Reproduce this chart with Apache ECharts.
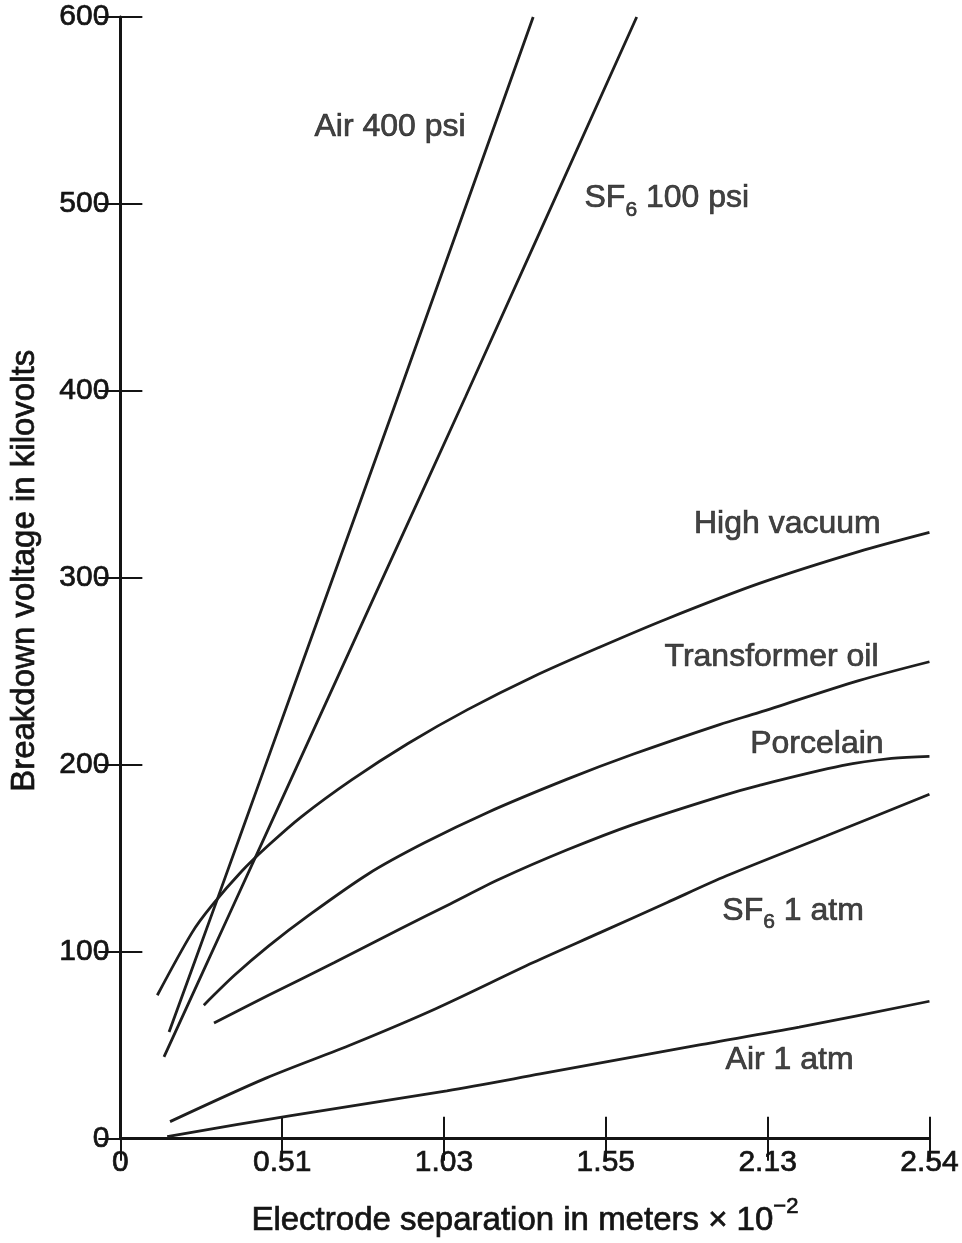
<!DOCTYPE html>
<html>
<head>
<meta charset="utf-8">
<script src="https://cdn.jsdelivr.net/npm/echarts@6/dist/echarts.min.js"></script>
<style>
html,body{margin:0;padding:0;background:#fff;}
#chart{width:962px;height:1243px;}
</style>
</head>
<body>
<div id="chart"></div>
<script>
// ---- data (x: electrode separation, m x 10^-2 ; y: breakdown voltage, kV) ----
const xTickStep = 0.508;
const xTickLabels = ['0', '0.51', '1.03', '1.55', '2.13', '2.54'];
const yTickStep = 100;

const air400psi = [[0.153,57.0],[0.300,126.0],[0.450,197.0],[0.625,280.0],[0.859,391.0],[1.296,600]];
const sf6100psi = [[0.137,43.7],[0.350,123.0],[0.550,197.5],[0.800,291.0],[1.084,397.0],[1.621,600]];
const highVacuum = [[0.116,76.7],[0.225,110.2],[0.287,124.6],[0.381,143.0],[0.465,156.9],[0.569,172.3],[0.725,191.8],[0.903,211.4],[1.090,229.5],[1.296,247.1],[1.506,263.0],[1.715,278.0],[2.006,297.0],[2.318,314.0],[2.540,324.3]];
const transformerOil = [[0.262,71.4],[0.359,87.5],[0.465,103.0],[0.590,119.3],[0.778,141.6],[0.953,158.1],[1.153,174.5],[1.403,192.3],[1.609,205.6],[1.881,221.5],[2.006,228.0],[2.318,245.0],[2.540,255.1]];
const porcelain = [[0.294,61.8],[0.465,76.7],[0.672,94.2],[0.881,112.4],[1.037,125.7],[1.193,139.0],[1.403,154.5],[1.609,168.0],[1.881,183.0],[2.006,189.0],[2.265,199.5],[2.421,203.4],[2.540,204.5]];
const sf61atm = [[0.156,9.1],[0.459,32.5],[0.728,50.5],[0.990,69.5],[1.296,94.2],[1.506,110.2],[1.715,126.2],[1.903,140.6],[2.215,161.9],[2.540,184.2]];
const air1atm = [[0.147,1.1],[0.531,12.2],[1.025,25.6],[1.318,34.6],[1.818,50.1],[2.131,59.6],[2.540,73.5]];

// curve labels (right edge x, centre y)
const curveLabelText = ['{t|Air 400 psi}', '{t|SF}{s|6}{t| 100 psi}', '{t|High vacuum}', '{t|Transformer oil}', '{t|Porcelain}', '{t|SF}{s|6}{t| 1 atm}', '{t|Air 1 atm}'];
const curveLabelX = [1.084, 1.974, 2.387, 2.380, 2.396, 2.334, 2.302];
const curveLabelY = [541.0, 503.0, 328.5, 257.7, 210.9, 121.9, 42.1];

const xAxisTitle = '{t|Electrode separation in meters \u00d7 10}{p|\u22122}';
const yAxisTitle = 'Breakdown voltage in kilovolts';

// ---- chart ----
const FONT = 'Liberation Sans';
const INK = '#141414';
const BOLDEN = {textBorderColor: INK, textBorderWidth: 0.7};
const chart = echarts.init(document.getElementById('chart'), null, {renderer: 'canvas'});

function lineSeries(name, data) {
  return {
    name: name, type: 'line', data: data, smooth: 0.3, symbol: 'none',
    lineStyle: {color: '#1e1e1e', width: 2.8}, silent: true, z: 3
  };
}

const labelData = curveLabelText.map((t, i) => ({value: [curveLabelX[i], curveLabelY[i]], text: t}));

const tickStyle = {inside: true, length: 22, lineStyle: {color: INK, width: 2}};

const option = {
  backgroundColor: '#ffffff',
  animation: false,
  grid: {left: 118, right: 32, top: 17, bottom: 99},
  xAxis: [{
    type: 'value', min: 0, max: 2.54, interval: xTickStep, position: 'bottom',
    axisLine: {lineStyle: {color: INK, width: 3}},
    axisTick: tickStyle,
    splitLine: {show: false},
    axisLabel: Object.assign({
      fontFamily: FONT, fontSize: 30, color: INK, margin: 9,
      formatter: v => xTickLabels[Math.round(v / xTickStep)] || ''
    }, BOLDEN),
    name: xAxisTitle, nameLocation: 'middle', nameGap: 57,
    nameTextStyle: {
      rich: {
        t: Object.assign({fontFamily: FONT, fontSize: 33, color: INK, verticalAlign: 'bottom', lineHeight: 42}, BOLDEN),
        p: Object.assign({fontFamily: FONT, fontSize: 22, color: INK, verticalAlign: 'top', lineHeight: 42}, BOLDEN)
      }
    }
  }, {
    type: 'value', min: 0, max: 2.54, interval: xTickStep, position: 'top',
    axisLine: {lineStyle: {color: INK, width: 2}},
    axisTick: tickStyle, axisLabel: {show: false}, splitLine: {show: false}
  }],
  yAxis: [{
    type: 'value', min: 0, max: 600, interval: yTickStep, position: 'left',
    axisLine: {lineStyle: {color: INK, width: 3}},
    axisTick: tickStyle,
    splitLine: {show: false},
    axisLabel: Object.assign({fontFamily: FONT, fontSize: 30, color: INK, margin: 11}, BOLDEN),
    name: yAxisTitle, nameLocation: 'middle', nameGap: 79, nameRotate: 90,
    nameTextStyle: Object.assign({fontFamily: FONT, fontSize: 33, color: INK, padding: [0, 0, 0, 14]}, BOLDEN)
  }, {
    type: 'value', min: 0, max: 600, interval: yTickStep, position: 'right',
    axisLine: {lineStyle: {color: INK, width: 2.5}},
    axisTick: tickStyle, axisLabel: {show: false}, splitLine: {show: false}
  }],
  series: [
    lineSeries('Air 400 psi', air400psi),
    lineSeries('SF6 100 psi', sf6100psi),
    lineSeries('High vacuum', highVacuum),
    lineSeries('Transformer oil', transformerOil),
    lineSeries('Porcelain', porcelain),
    lineSeries('SF6 1 atm', sf61atm),
    lineSeries('Air 1 atm', air1atm),
    {
      type: 'scatter', symbolSize: 0, silent: true, z: 5,
      data: labelData,
      label: {
        show: true, position: 'inside', align: 'right', verticalAlign: 'middle',
        formatter: p => p.data.text,
        rich: {
          t: Object.assign({fontFamily: FONT, fontSize: 32, color: INK, verticalAlign: 'middle', lineHeight: 40}, BOLDEN),
          s: Object.assign({fontFamily: FONT, fontSize: 21, color: INK, verticalAlign: 'bottom', lineHeight: 44}, BOLDEN)
        }
      }
    }
  ]
};
chart.setOption(option);
</script>
</body>
</html>
